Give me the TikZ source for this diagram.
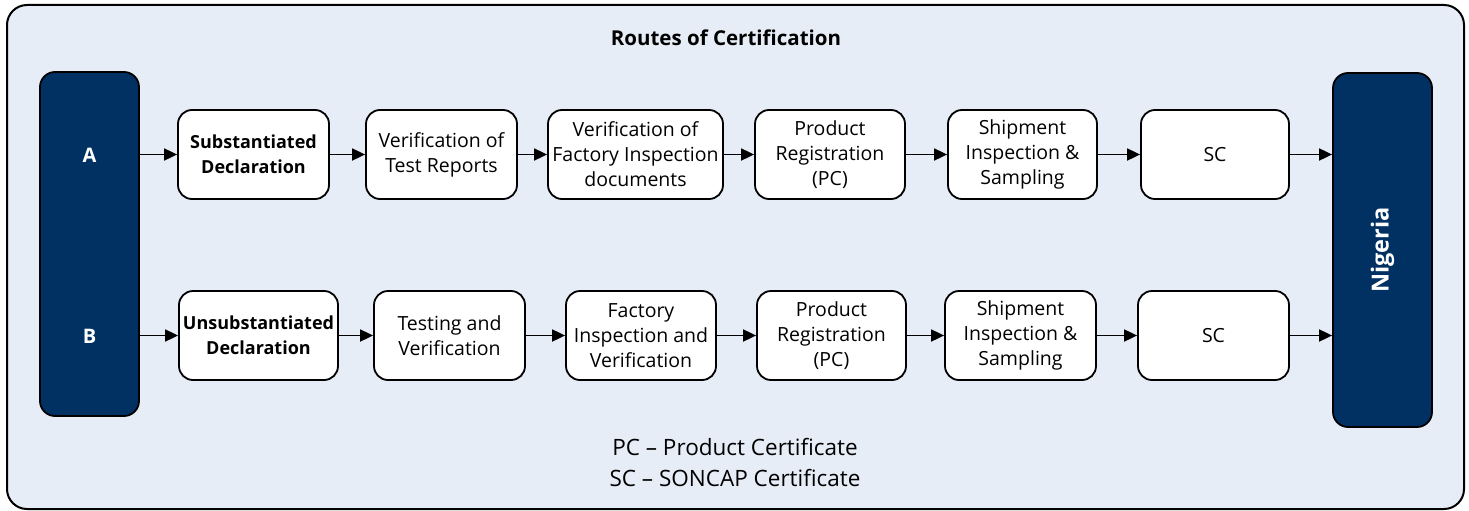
\documentclass[tikz,border=0pt]{standalone}
\usepackage{fontspec}
\setmainfont{Open Sans}
\usetikzlibrary{arrows.meta}
\definecolor{bgfill}{HTML}{E7EDF7}
\definecolor{navy}{HTML}{003162}
\begin{document}
\begin{tikzpicture}[x=1pt,y=-1pt,
  stepbox/.style={draw=black, line width=1.8pt, fill=white, rounded corners=14pt,
    align=center, inner sep=0pt, minimum height=89pt,
    font=\fontsize{19.5}{25}\selectfont},
  boldtext/.style={font=\bfseries\fontsize{18}{25}\selectfont},
  sidebox/.style={draw=black, line width=1.8pt, fill=navy, rounded corners=15pt,
    minimum width=99pt, inner sep=0pt},
  sidelabel/.style={text=white, font=\bfseries\fontsize{20}{24}\selectfont},
  arr/.style={-{Triangle[length=13pt,width=12pt]}, line width=1.8pt}]
\useasboundingbox (0,0) rectangle (1469,511);
\draw[line width=2pt, fill=bgfill, rounded corners=20pt] (7,5) rectangle (1464,509);

\node[font=\bfseries\fontsize{20.5}{24}\selectfont] (title) at (726,38) {Routes of Certification};

\node[sidebox, minimum height=344pt] (L) at (89.5,244) {};
\node[sidebox, minimum height=354pt] (R) at (1382.5,250) {};
\node[sidelabel] (la) at (89.5,155) {A};
\node[sidelabel] (lb) at (89.5,336) {B};
\node[sidelabel, rotate=90, font=\bfseries\fontsize{23.5}{28}\selectfont] (ng) at (R) {Nigeria};

% Row A
\node[stepbox, boldtext, minimum width=151pt] (a1) at (253.5,154.5) {Substantiated\\Declaration};
\node[stepbox, minimum width=151pt] (a2) at (441.5,154.5) {Verification of\\Test Reports};
\node[stepbox, minimum width=175pt] (a3) at (635.5,154.5) {Verification of\\Factory Inspection\\documents};
\node[stepbox, minimum width=150pt] (a4) at (830,154.5) {Product\\Registration\\(PC)};
\node[stepbox, minimum width=149pt] (a5) at (1022.5,154.5) {Shipment\\Inspection \&\\Sampling};
\node[stepbox, minimum width=148pt] (a6) at (1215,154.5) {SC};

% Row B
\node[stepbox, boldtext, minimum width=159pt] (b1) at (258.5,335.5) {Unsubstantiated\\Declaration};
\node[stepbox, minimum width=151pt] (b2) at (449.5,335.5) {Testing and\\Verification};
\node[stepbox, minimum width=150pt] (b3) at (641,335.5) {Factory\\Inspection and\\Verification};
\node[stepbox, minimum width=149pt] (b4) at (831.5,335.5) {Product\\Registration\\(PC)};
\node[stepbox, minimum width=151pt] (b5) at (1020.5,335.5) {Shipment\\Inspection \&\\Sampling};
\node[stepbox, minimum width=151pt] (b6) at (1213.5,335.5) {SC};

% Arrows
\draw[arr] (L.east |- a1.west) -- (a1.west);
\draw[arr] (a1) -- (a2);
\draw[arr] (a2) -- (a3);
\draw[arr] (a3) -- (a4);
\draw[arr] (a4) -- (a5);
\draw[arr] (a5) -- (a6);
\draw[arr] (a6.east) -- (a6.east -| R.west);
\draw[arr] (L.east |- b1.west) -- (b1.west);
\draw[arr] (b1) -- (b2);
\draw[arr] (b2) -- (b3);
\draw[arr] (b3) -- (b4);
\draw[arr] (b4) -- (b5);
\draw[arr] (b5) -- (b6);
\draw[arr] (b6.east) -- (b6.east -| R.west);

\node[align=center, font=\fontsize{22.5}{31}\selectfont] (legend) at (735,462) {PC – Product Certificate\\SC – SONCAP Certificate};
\end{tikzpicture}
\end{document}
